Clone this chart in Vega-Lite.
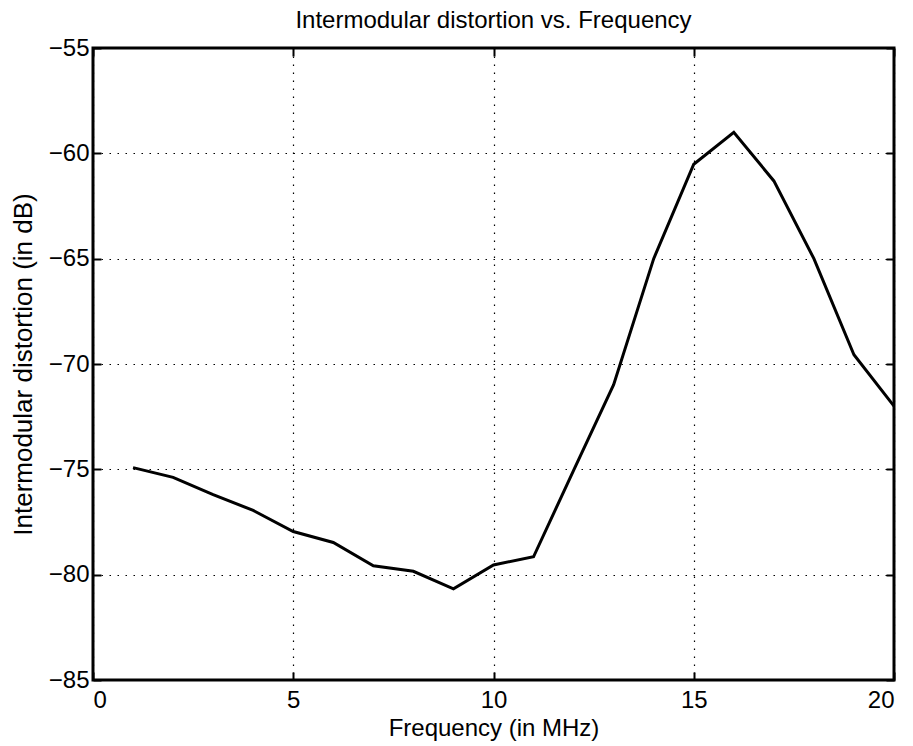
{
  "$schema": "https://vega.github.io/schema/vega-lite/v6.json",
  "width": 801,
  "height": 632,
  "autosize": {"type": "none"},
  "padding": {"left": 93, "top": 48, "right": 19, "bottom": 66},
  "background": "white",
  "title": {"text": "Intermodular distortion vs. Frequency", "font": "Liberation Sans", "fontSize": 24, "fontWeight": "normal", "color": "black", "offset": 3},
  "config": {
    "view": {"stroke": "black", "strokeWidth": 3},
    "axis": {"labelFont": "Liberation Sans", "titleFont": "Liberation Sans", "labelFontSize": 24, "titleFontSize": 25, "titleFontWeight": "normal", "labelColor": "black", "titleColor": "black", "domain": false, "tickColor": "black", "tickWidth": 2, "tickSize": -8, "gridColor": "black", "gridDash": [1.5, 6.5], "gridWidth": 1.2, "gridOpacity": 1}
  },
  "data": {"values": [
    {"f": 1, "d": -74.92},
    {"f": 2, "d": -75.38},
    {"f": 3, "d": -76.2},
    {"f": 4, "d": -76.95},
    {"f": 5, "d": -77.95},
    {"f": 6, "d": -78.47},
    {"f": 7, "d": -79.58},
    {"f": 8, "d": -79.84},
    {"f": 9, "d": -80.67},
    {"f": 10, "d": -79.54},
    {"f": 11, "d": -79.15},
    {"f": 12, "d": -75.05},
    {"f": 13, "d": -70.98},
    {"f": 14, "d": -65.0},
    {"f": 15, "d": -60.52},
    {"f": 16, "d": -59.0},
    {"f": 17, "d": -61.31},
    {"f": 18, "d": -65.0},
    {"f": 19, "d": -69.56},
    {"f": 20, "d": -72.0}
  ]},
  "layer": [
    {
      "mark": {"type": "line", "color": "black", "strokeWidth": 3},
      "encoding": {
        "x": {"field": "f", "type": "quantitative", "scale": {"domain": [0, 20], "nice": false, "zero": false},
              "axis": {"values": [0, 5, 10, 15, 20], "grid": true, "title": "Frequency (in MHz)", "labelPadding": 16, "titlePadding": 4, "titleFontSize": 24, "format": "d"}},
        "y": {"field": "d", "type": "quantitative", "scale": {"domain": [-85, -55], "nice": false, "zero": false},
              "axis": {"values": [-85, -80, -75, -70, -65, -60, -55], "grid": true, "title": "Intermodular distortion (in dB)", "titleFontSize": 26, "labelPadding": 12, "titlePadding": 12, "format": "d"}}
      }
    },
    {
      "mark": {"type": "line", "opacity": 0},
      "encoding": {
        "x": {"field": "f", "type": "quantitative", "scale": {"domain": [0, 20], "nice": false, "zero": false},
              "axis": {"orient": "top", "values": [0, 5, 10, 15, 20], "labels": false, "title": null, "grid": false}},
        "y": {"field": "d", "type": "quantitative", "scale": {"domain": [-85, -55], "nice": false, "zero": false},
              "axis": {"orient": "right", "values": [-85, -80, -75, -70, -65, -60, -55], "labels": false, "title": null, "grid": false}}
      }
    }
  ],
  "resolve": {"axis": {"x": "independent", "y": "independent"}}
}
